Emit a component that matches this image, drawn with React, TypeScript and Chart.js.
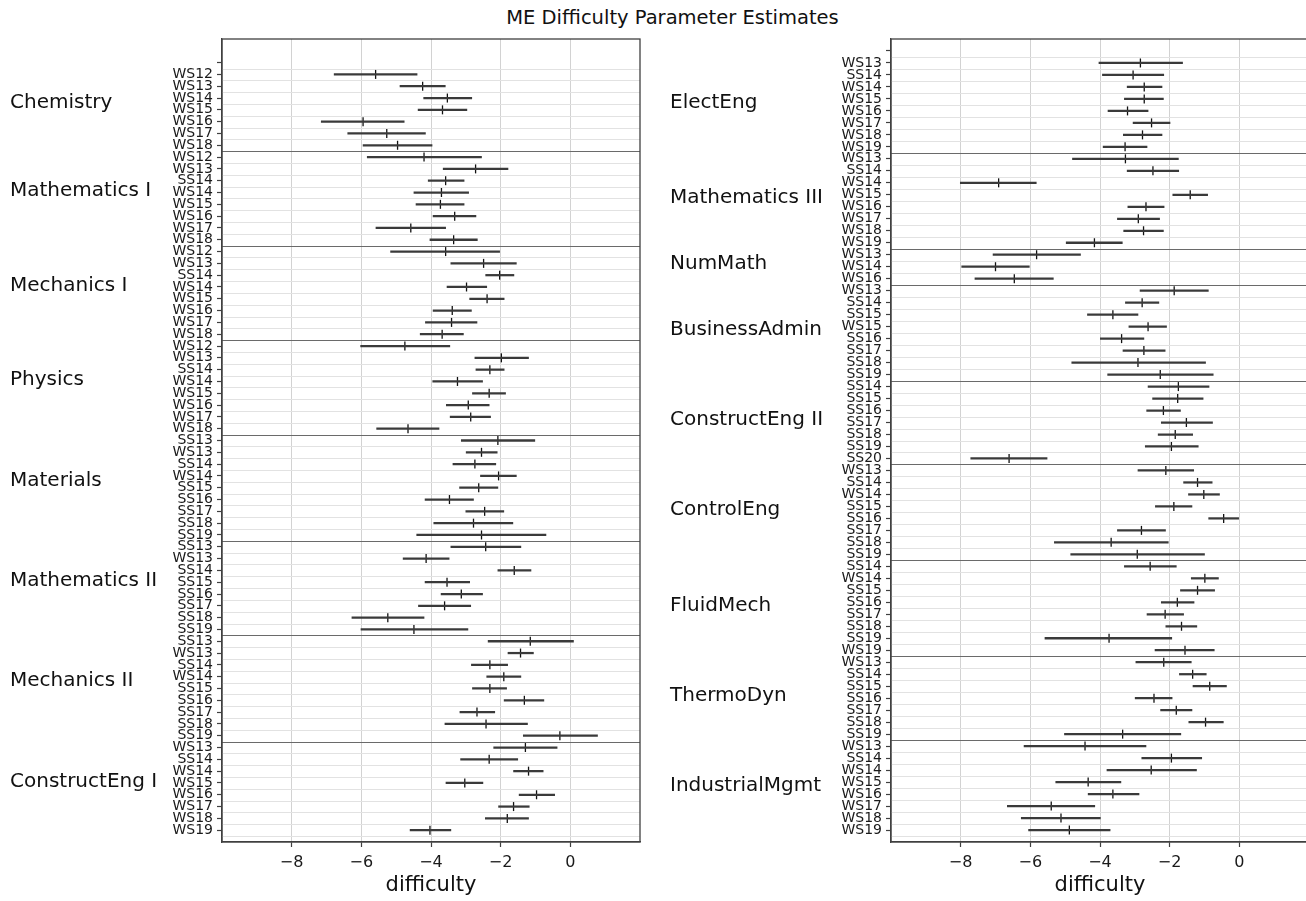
import React, { useEffect, useRef } from 'react';
import { Chart, registerables } from 'chart.js';

Chart.register(...registerables);

const FONT = "'DejaVu Sans', 'Liberation Sans', sans-serif";
Chart.defaults.font.family = FONT;

// ---------------- Left panel data ----------------
const leftGroups = ['Chemistry', 'Mathematics I', 'Mechanics I', 'Physics', 'Materials', 'Mathematics II', 'Mechanics II', 'ConstructEng I'];
const leftSizes = [7, 8, 8, 8, 9, 8, 9, 8];
const leftSemesters = [
  'WS12', 'WS13', 'WS14', 'WS15', 'WS16', 'WS17', 'WS18',
  'WS12', 'WS13', 'SS14', 'WS14', 'WS15', 'WS16', 'WS17', 'WS18',
  'WS12', 'WS13', 'SS14', 'WS14', 'WS15', 'WS16', 'WS17', 'WS18',
  'WS12', 'WS13', 'SS14', 'WS14', 'WS15', 'WS16', 'WS17', 'WS18',
  'SS13', 'WS13', 'SS14', 'WS14', 'SS15', 'SS16', 'SS17', 'SS18', 'SS19',
  'SS13', 'WS13', 'SS14', 'SS15', 'SS16', 'SS17', 'SS18', 'SS19',
  'SS13', 'WS13', 'SS14', 'WS14', 'SS15', 'SS16', 'SS17', 'SS18', 'SS19',
  'WS13', 'SS14', 'WS14', 'WS15', 'WS16', 'WS17', 'WS18', 'WS19',
];
const leftEstimate = [
  -5.59, -4.24, -3.53, -3.67, -5.95, -5.27, -4.96,
  -4.20, -2.72, -3.58, -3.70, -3.73, -3.32, -4.58, -3.35,
  -3.58, -2.49, -2.03, -2.98, -2.39, -3.39, -3.41, -3.68,
  -4.75, -1.98, -2.31, -3.24, -2.33, -2.93, -2.86, -4.66,
  -2.08, -2.55, -2.74, -2.06, -2.63, -3.47, -2.46, -2.78, -2.55,
  -2.43, -4.14, -1.61, -3.54, -3.13, -3.61, -5.24, -4.49,
  -1.15, -1.43, -2.31, -1.91, -2.31, -1.32, -2.68, -2.42, -0.30,
  -1.29, -2.33, -1.20, -3.03, -0.97, -1.63, -1.81, -4.03,
];
const leftLower = [
  -6.78, -4.89, -4.21, -4.37, -7.15, -6.39, -5.95,
  -5.83, -3.65, -4.08, -4.49, -4.43, -3.94, -5.58, -4.03,
  -5.16, -3.43, -2.43, -3.54, -2.89, -3.94, -4.16, -4.31,
  -6.02, -2.74, -2.71, -3.95, -2.81, -3.56, -3.45, -5.56,
  -3.13, -2.99, -3.37, -2.58, -3.18, -4.17, -3.00, -3.92, -4.41,
  -3.43, -4.80, -2.08, -4.17, -3.71, -4.36, -6.27, -6.01,
  -2.36, -1.79, -2.84, -2.40, -2.81, -1.90, -3.17, -3.60, -1.35,
  -2.20, -3.15, -1.63, -3.57, -1.47, -2.06, -2.44, -4.60,
];
const leftUpper = [
  -4.40, -3.59, -2.83, -2.97, -4.77, -4.16, -3.97,
  -2.55, -1.79, -3.05, -2.92, -3.05, -2.71, -3.58, -2.67,
  -2.03, -1.55, -1.62, -2.40, -1.90, -2.84, -2.68, -3.07,
  -3.46, -1.20, -1.90, -2.52, -1.86, -2.33, -2.29, -3.77,
  -1.02, -2.10, -2.14, -1.55, -2.08, -2.78, -1.91, -1.65, -0.70,
  -1.42, -3.48, -1.13, -2.89, -2.52, -2.86, -4.20, -2.94,
  0.09, -1.06, -1.80, -1.42, -1.83, -0.76, -2.17, -1.23, 0.78,
  -0.38, -1.51, -0.78, -2.51, -0.45, -1.18, -1.20, -3.43,
];

// ---------------- Right panel data ----------------
const rightGroups = ['ElectEng', 'Mathematics III', 'NumMath', 'BusinessAdmin', 'ConstructEng II', 'ControlEng', 'FluidMech', 'ThermoDyn', 'IndustrialMgmt'];
const rightSizes = [8, 8, 3, 8, 7, 8, 8, 7, 8];
const rightSemesters = [
  'WS13', 'SS14', 'WS14', 'WS15', 'WS16', 'WS17', 'WS18', 'WS19',
  'WS13', 'SS14', 'WS14', 'WS15', 'WS16', 'WS17', 'WS18', 'WS19',
  'WS13', 'WS14', 'WS16',
  'WS13', 'SS14', 'SS15', 'WS15', 'SS16', 'SS17', 'SS18', 'SS19',
  'SS14', 'SS15', 'SS16', 'SS17', 'SS18', 'SS19', 'SS20',
  'WS13', 'SS14', 'WS14', 'SS15', 'SS16', 'SS17', 'SS18', 'SS19',
  'SS14', 'WS14', 'SS15', 'SS16', 'SS17', 'SS18', 'SS19', 'WS19',
  'WS13', 'SS14', 'SS15', 'SS16', 'SS17', 'SS18', 'SS19',
  'WS13', 'SS14', 'WS14', 'WS15', 'WS16', 'WS17', 'WS18', 'WS19',
];
const rightEstimate = [
  -2.84, -3.05, -2.73, -2.73, -3.21, -2.52, -2.78, -3.28,
  -3.27, -2.48, -6.91, -1.41, -2.68, -2.90, -2.75, -4.16,
  -5.82, -7.00, -6.46,
  -1.87, -2.79, -3.63, -2.62, -3.38, -2.74, -2.91, -2.27,
  -1.75, -1.77, -2.18, -1.52, -1.84, -1.95, -6.61,
  -2.11, -1.20, -1.02, -1.88, -0.45, -2.81, -3.68, -2.93,
  -2.56, -0.99, -1.20, -1.78, -2.13, -1.66, -3.74, -1.56,
  -2.17, -1.34, -0.85, -2.45, -1.81, -0.97, -3.35,
  -4.43, -1.95, -2.53, -4.34, -3.63, -5.40, -5.12, -4.88,
];
const rightLower = [
  -4.03, -3.93, -3.22, -3.30, -3.77, -3.05, -3.33, -3.91,
  -4.79, -3.22, -8.01, -1.91, -3.20, -3.50, -3.32, -4.97,
  -7.07, -7.97, -7.59,
  -2.85, -3.27, -4.36, -3.17, -3.99, -3.34, -4.81, -3.78,
  -2.62, -2.49, -2.66, -2.24, -2.33, -2.70, -7.71,
  -2.91, -1.60, -1.46, -2.41, -0.88, -3.50, -5.31, -4.84,
  -3.30, -1.38, -1.69, -2.24, -2.65, -2.11, -5.58, -2.42,
  -2.97, -1.72, -1.33, -2.99, -2.26, -1.45, -5.02,
  -6.18, -2.80, -3.80, -5.27, -4.34, -6.66, -6.26, -6.05,
];
const rightUpper = [
  -1.63, -2.17, -2.22, -2.18, -2.62, -1.99, -2.22, -2.65,
  -1.75, -1.74, -5.83, -0.91, -2.16, -2.29, -2.18, -3.36,
  -4.56, -6.03, -5.34,
  -0.89, -2.31, -2.91, -2.09, -2.74, -2.13, -0.97, -0.75,
  -0.87, -1.04, -1.69, -0.77, -1.34, -1.18, -5.52,
  -1.31, -0.78, -0.57, -1.36, -0.02, -2.12, -2.04, -1.00,
  -1.81, -0.60, -0.71, -1.30, -1.60, -1.22, -1.94, -0.72,
  -1.38, -0.95, -0.37, -1.93, -1.36, -0.46, -1.68,
  -2.68, -1.08, -1.23, -3.40, -2.88, -4.15, -3.99, -3.71,
];

const xTickValues = [-8, -6, -4, -2, 0];
const xLabel = 'difficulty';
const titleText = 'ME Difficulty Parameter Estimates';

type PanelProps = {
  groups: string[];
  sizes: number[];
  semesters: string[];
  est: number[];
  lo: number[];
  hi: number[];
  yMin: number;
  labelShift: number;
  left: number;
  width: number;
  yAxisWidth: number;
  padRight: number;
};

function Panel(p: PanelProps) {
  const ref = useRef<HTMLCanvasElement>(null);
  useEffect(() => {
    const canvas = ref.current;
    if (!canvas) return;
    const n = p.semesters.length;
    const rowTicks = Array.from({ length: n + 1 }, (_, i) => i);
    const ends: number[] = [];
    let acc = 0;
    p.sizes.forEach((s) => {
      acc += s;
      ends.push(acc);
    });
    const seps = ends.slice(0, -1);

    const rowsPlugin = {
      id: 'rows',
      beforeDatasetsDraw(chart: any) {
        const { ctx, chartArea: a, scales } = chart;
        const y = scales.y;
        ctx.save();
        for (let r = 0; r <= n; r++) {
          if (seps.includes(r)) continue;
          const py = Math.round(y.getPixelForValue(r + 0.5)) + 0.5;
          ctx.strokeStyle = '#e2e2e2';
          ctx.lineWidth = 1.2;
          ctx.beginPath();
          ctx.moveTo(a.left, py);
          ctx.lineTo(a.right, py);
          ctx.stroke();
        }
        seps.forEach((r) => {
          const py = Math.round(y.getPixelForValue(r + 0.5)) + 0.5;
          ctx.strokeStyle = '#6a6a6a';
          ctx.lineWidth = 1;
          ctx.beginPath();
          ctx.moveTo(a.left, py);
          ctx.lineTo(a.right, py);
          ctx.stroke();
        });
        ctx.restore();
      },
      afterDraw(chart: any) {
        const { ctx, chartArea: a, scales } = chart;
        const y = scales.y;
        ctx.save();
        ctx.strokeStyle = '#404040';
        ctx.lineWidth = 1.3;
        ctx.strokeRect(a.left, a.top, a.right - a.left, a.bottom - a.top);
        ctx.fillStyle = '#111111';
        ctx.font = `20px ${FONT}`;
        ctx.textAlign = 'left';
        ctx.textBaseline = 'middle';
        let start = 1;
        p.groups.forEach((g, gi) => {
          const end = ends[gi];
          const center = (start + end) / 2 + p.labelShift;
          ctx.fillText(g, 10, y.getPixelForValue(center) + 1);
          start = end + 1;
        });
        ctx.restore();
      },
    };

    const chart = new Chart(canvas, {
      type: 'bar',
      data: {
        datasets: [
          {
            type: 'bar',
            data: p.semesters.map((_, i) => ({ x: [p.lo[i], p.hi[i]], y: i + 1 })) as any,
            backgroundColor: '#3a3a3a',
            borderWidth: 0,
            barThickness: 1.6,
          } as any,
          {
            type: 'scatter',
            data: p.est.map((v, i) => ({ x: v, y: i + 1 })),
            pointStyle: 'line',
            pointRotation: 90,
            rotation: 90,
            pointRadius: 4.5,
            pointHoverRadius: 4.5,
            borderColor: '#111111',
            pointBorderColor: '#111111',
            pointBorderWidth: 1.3,
            borderWidth: 1.3,
          } as any,
        ],
      },
      options: {
        indexAxis: 'y',
        responsive: false,
        animation: false,
        devicePixelRatio: 1,
        events: [],
        layout: { padding: { top: 39, right: p.padRight, left: 0, bottom: 0 } },
        plugins: {
          legend: { display: false },
          tooltip: { enabled: false },
        },
        scales: {
          x: {
            type: 'linear',
            position: 'bottom',
            min: -10,
            max: 2,
            offset: false,
            afterBuildTicks: (s: any) => {
              s.ticks = xTickValues.map((v) => ({ value: v }));
            },
            afterFit: (s: any) => {
              s.height = 59;
            },
            ticks: {
              callback: (v: any) => (Number(v) < 0 ? '\u2212' + Math.abs(Number(v)) : String(v)),
              font: { family: FONT, size: 16 },
              color: '#1a1a1a',
              padding: 6,
              maxRotation: 0,
              autoSkip: false,
            },
            grid: { offset: false, color: '#d2d2d2', lineWidth: 1, drawTicks: true, tickLength: 5, tickColor: '#404040', tickWidth: 1.2 },
            border: { display: true, color: '#404040', width: 1.3 },
            title: {
              display: true,
              text: xLabel,
              font: { family: FONT, size: 21 },
              color: '#111111',
              padding: { top: 0, bottom: 3 },
            },
          },
          y: {
            type: 'linear',
            position: 'left',
            reverse: true,
            offset: false,
            min: p.yMin,
            max: 66,
            afterBuildTicks: (s: any) => {
              s.ticks = rowTicks.map((v) => ({ value: v }));
            },
            afterFit: (s: any) => {
              s.width = p.yAxisWidth;
            },
            ticks: {
              callback: (v: any) => (Number(v) === 0 ? '' : p.semesters[Number(v) - 1]),
              font: { family: FONT, size: 14 },
              color: '#1a1a1a',
              padding: 4,
              autoSkip: false,
            },
            grid: { offset: false, drawOnChartArea: false, drawTicks: true, tickLength: 5, tickColor: '#404040', tickWidth: 1.2 },
            border: { display: true, color: '#404040', width: 1.3 },
          },
        },
      } as any,
      plugins: [rowsPlugin],
    });
    return () => chart.destroy();
  }, []);
  return (
    <canvas
      ref={ref}
      width={p.width}
      height={901}
      style={{ position: 'absolute', left: p.left, top: 0, width: p.width, height: 901, display: 'block' }}
    />
  );
}

export default function App() {
  return (
    <div
      style={{
        position: 'absolute',
        left: 0,
        top: 0,
        width: 1306,
        height: 901,
        overflow: 'hidden',
        background: '#ffffff',
      }}
    >
      <div
        style={{
          position: 'absolute',
          left: 0,
          top: 6,
          width: 1345,
          textAlign: 'center',
          fontFamily: FONT,
          fontSize: 19.5,
          color: '#111111',
          whiteSpace: 'nowrap',
        }}
      >
        {titleText}
      </div>
      <Panel
        groups={leftGroups}
        sizes={leftSizes}
        semesters={leftSemesters}
        est={leftEstimate}
        lo={leftLower}
        hi={leftUpper}
        yMin={-2}
        labelShift={-0.7}
        left={0}
        width={650}
        yAxisWidth={222}
        padRight={10}
      />
      <Panel
        groups={rightGroups}
        sizes={rightSizes}
        semesters={rightSemesters}
        est={rightEstimate}
        lo={rightLower}
        hi={rightUpper}
        yMin={-1}
        labelShift={-0.3}
        left={660}
        width={660}
        yAxisWidth={231}
        padRight={11}
      />
    </div>
  );
}
